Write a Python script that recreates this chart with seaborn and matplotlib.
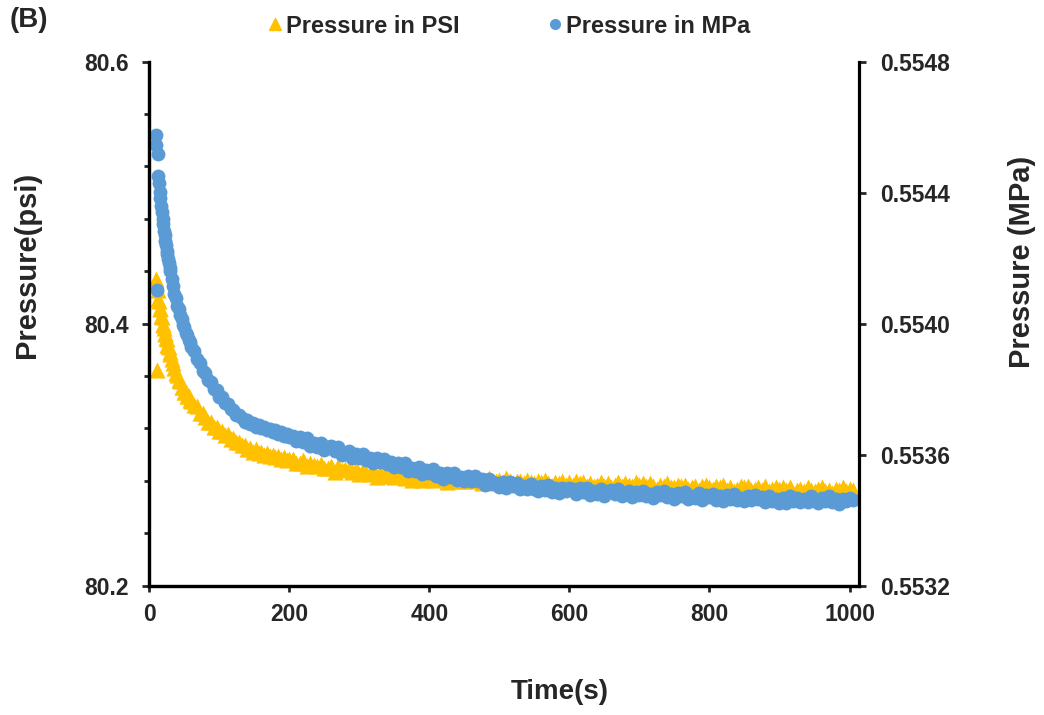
import matplotlib
matplotlib.use("Agg")
import matplotlib.pyplot as plt
import seaborn as sns
import pandas as pd
from matplotlib.ticker import MultipleLocator, FormatStrFormatter
from matplotlib.lines import Line2D

# ---------------- data ----------------
time_s = ([9, 10, 11, 12] + list(range(13, 31)) + list(range(32, 61, 2))
          + list(range(64, 201, 4)) + list(range(205, 1006, 5)))

pressure_psi = [
    80.434, 80.430, 80.365, 80.426,
    # 13..30
    80.419, 80.417, 80.412, 80.411, 80.406, 80.405, 80.400, 80.399, 80.397,
    80.393, 80.392, 80.389, 80.388, 80.384, 80.383, 80.382, 80.378, 80.377,
    # 32..60
    80.373, 80.370, 80.366, 80.362, 80.361, 80.357, 80.356, 80.352, 80.352,
    80.348, 80.348, 80.345, 80.345, 80.342, 80.341,
    # 64..200
    80.338, 80.337, 80.332, 80.332, 80.329, 80.325, 80.325, 80.321, 80.321, 80.318,
    80.318, 80.315, 80.316, 80.312, 80.313, 80.310, 80.310, 80.307, 80.307, 80.304,
    80.305, 80.302, 80.304, 80.301, 80.302, 80.300, 80.301, 80.299, 80.300, 80.298,
    80.299, 80.297, 80.298, 80.296, 80.297,
    # 205..1005
    80.297, 80.294, 80.294, 80.296, 80.291, 80.294, 80.292, 80.291, 80.293, 80.290,
    80.290, 80.291, 80.287, 80.291, 80.288, 80.289, 80.289, 80.287, 80.289, 80.285,
    80.288, 80.286, 80.285, 80.288, 80.283, 80.286, 80.284, 80.285, 80.286, 80.283,
    80.284, 80.286, 80.282, 80.284, 80.281, 80.283, 80.283, 80.281, 80.284, 80.282,
    80.281, 80.283, 80.282, 80.284, 80.279, 80.282, 80.280, 80.283, 80.281, 80.280,
    80.283, 80.280, 80.281, 80.282, 80.278, 80.281, 80.282, 80.279, 80.280, 80.281,
    80.279, 80.282, 80.280, 80.278, 80.280, 80.280, 80.278, 80.281, 80.279, 80.278,
    80.280, 80.279, 80.281, 80.278, 80.276, 80.279, 80.278, 80.280, 80.277, 80.279,
    80.277, 80.280, 80.278, 80.279, 80.276, 80.278, 80.276, 80.277, 80.279, 80.276,
    80.278, 80.275, 80.277, 80.279, 80.276, 80.278, 80.277, 80.276, 80.279, 80.277,
    80.278, 80.276, 80.278, 80.276, 80.274, 80.277, 80.276, 80.278, 80.275, 80.275,
    80.277, 80.276, 80.277, 80.274, 80.275, 80.276, 80.273, 80.276, 80.277, 80.275,
    80.274, 80.276, 80.275, 80.277, 80.273, 80.275, 80.272, 80.274, 80.276, 80.275,
    80.276, 80.273, 80.274, 80.275, 80.273, 80.276, 80.272, 80.274, 80.275, 80.274,
    80.275, 80.273, 80.275, 80.271, 80.273, 80.274, 80.272, 80.275, 80.273, 80.272,
    80.274, 80.275, 80.272, 80.273, 80.271, 80.274, 80.273, 80.275, 80.272, 80.274,
    80.273,
]

pressure_mpa = [
    0.554575, 0.554547, 0.554104, 0.554519,
    # 13..30
    0.554452, 0.554430, 0.554401, 0.554383, 0.554358, 0.554342, 0.554319, 0.554305,
    0.554284, 0.554271, 0.554252, 0.554240, 0.554221, 0.554213, 0.554196, 0.554186,
    0.554170, 0.554161,
    # 32..60
    0.554136, 0.554115, 0.554091, 0.554078, 0.554055, 0.554046, 0.554025, 0.554015,
    0.553996, 0.553990, 0.553972, 0.553966, 0.553949, 0.553945, 0.553929,
    # 64..200
    0.553916, 0.553891, 0.553881, 0.553857, 0.553850, 0.553827, 0.553821, 0.553800,
    0.553796, 0.553777,
    0.553775, 0.553757, 0.553756, 0.553738, 0.553737, 0.553721, 0.553722, 0.553711,
    0.553700, 0.553705,
    0.553693, 0.553698, 0.553686, 0.553691, 0.553680, 0.553685, 0.553674, 0.553679,
    0.553669, 0.553674,
    0.553663, 0.553668, 0.553658, 0.553664, 0.553655,
    # 205..1005
    0.553658, 0.553641, 0.553655, 0.553639, 0.553650, 0.553626, 0.553636, 0.553624, 0.553636, 0.553613,
    0.553624, 0.553626, 0.553610, 0.553623, 0.553600, 0.553606, 0.553610, 0.553590, 0.553602, 0.553591,
    0.553602, 0.553583, 0.553590, 0.553574, 0.553590, 0.553578, 0.553588, 0.553570, 0.553577, 0.553561,
    0.553575, 0.553562, 0.553574, 0.553551, 0.553559, 0.553551, 0.553561, 0.553540, 0.553554, 0.553545,
    0.553555, 0.553535, 0.553544, 0.553527, 0.553543, 0.553531, 0.553543, 0.553524, 0.553531, 0.553519,
    0.553536, 0.553520, 0.553535, 0.553519, 0.553525, 0.553507, 0.553525, 0.553509, 0.553513, 0.553501,
    0.553517, 0.553498, 0.553518, 0.553504, 0.553512, 0.553495, 0.553505, 0.553494, 0.553509, 0.553496,
    0.553489, 0.553505, 0.553492, 0.553507, 0.553487, 0.553497, 0.553483, 0.553497, 0.553489, 0.553499,
    0.553495, 0.553481, 0.553498, 0.553485, 0.553499, 0.553477, 0.553490, 0.553480, 0.553494, 0.553473,
    0.553488, 0.553493, 0.553479, 0.553495, 0.553474, 0.553483, 0.553489, 0.553471, 0.553486, 0.553477,
    0.553490, 0.553473, 0.553481, 0.553467, 0.553486, 0.553476, 0.553488, 0.553471, 0.553480, 0.553466,
    0.553483, 0.553473, 0.553487, 0.553466, 0.553475, 0.553469, 0.553482, 0.553462, 0.553478, 0.553471,
    0.553481, 0.553463, 0.553473, 0.553458, 0.553476, 0.553465, 0.553479, 0.553461, 0.553469, 0.553458,
    0.553475, 0.553461, 0.553478, 0.553464, 0.553470, 0.553454, 0.553473, 0.553459, 0.553464, 0.553453,
    0.553469, 0.553451, 0.553473, 0.553460, 0.553469, 0.553454, 0.553466, 0.553456, 0.553473, 0.553461,
    0.553452, 0.553469, 0.553457, 0.553473, 0.553454, 0.553464, 0.553450, 0.553465, 0.553458, 0.553469,
    0.553462,
]

series_labels = ["Pressure in PSI", "Pressure in MPa"]
x_ticks = [0, 200, 400, 600, 800, 1000]
psi_ticks = [80.2, 80.4, 80.6]
mpa_ticks = [0.5532, 0.5536, 0.5540, 0.5544, 0.5548]

# ---------------- style ----------------
sns.set_style("ticks")
plt.rcParams["font.family"] = ["Liberation Sans", "DejaVu Sans"]
plt.rcParams["font.weight"] = "bold"
plt.rcParams["axes.labelweight"] = "bold"

YELLOW = "#FFC000"
BLUE = "#5B9BD5"

df = pd.DataFrame({"time": time_s, "psi": pressure_psi, "mpa": pressure_mpa})

fig = plt.figure(figsize=(10.44, 7.15), dpi=100)
ax = fig.add_axes([0.1430, 0.1809, 0.6801, 0.7328])
ax2 = ax.twinx()

sns.scatterplot(data=df, x="time", y="psi", ax=ax, color=YELLOW, marker="^",
                s=135, linewidth=0, alpha=1, legend=False)
sns.scatterplot(data=df, x="time", y="mpa", ax=ax2, color=BLUE, marker="o",
                s=100, linewidth=0, alpha=1, legend=False)

ax.set_xlim(0, 1014)
ax.set_ylim(80.2, 80.6)
ax2.set_ylim(0.5532, 0.5548)

ax.set_xticks(x_ticks)
ax.set_yticks(psi_ticks)
ax.yaxis.set_minor_locator(MultipleLocator(0.04))
ax.yaxis.set_major_formatter(FormatStrFormatter("%.1f"))
ax2.set_yticks(mpa_ticks)
ax2.yaxis.set_major_formatter(FormatStrFormatter("%.4f"))

for a in (ax, ax2):
    for side in ("left", "right", "top", "bottom"):
        a.spines[side].set_linewidth(2.3)
        a.spines[side].set_color("black")
    a.spines["top"].set_visible(False)
ax.spines["right"].set_visible(False)

ax.tick_params(axis="x", which="major", direction="out", length=4.5, width=2,
               labelsize=16.5, pad=8)
ax.tick_params(axis="y", which="major", direction="out", length=5, width=2,
               labelsize=16.5, pad=10)
ax.tick_params(axis="y", which="minor", direction="out", length=3.5, width=2)
ax2.tick_params(axis="y", which="major", direction="out", length=5, width=2,
                labelsize=16.5, pad=10)
for lab in ax.get_xticklabels() + ax.get_yticklabels() + ax2.get_yticklabels():
    lab.set_fontweight("bold")

ax.set_xlabel("Time(s)", fontsize=20, fontweight="bold")
ax.set_ylabel("Pressure(psi)", fontsize=21, fontweight="bold")
ax2.set_ylabel("Pressure (MPa)", fontsize=21, fontweight="bold")
ax.xaxis.set_label_coords(0.578, -0.203)
ax.xaxis.label.set_va("center")
ax.yaxis.set_label_coords(-0.172, 0.612)
ax.yaxis.label.set_va("center")
ax2.yaxis.set_label_coords(1.229, 0.618)
ax2.yaxis.label.set_va("center")

handles = [
    Line2D([], [], marker="^", color=YELLOW, linestyle="none", markersize=9),
    Line2D([], [], marker="o", color=BLUE, linestyle="none", markersize=7),
]
fig.legend(handles, series_labels, loc="center", bbox_to_anchor=(0.4870, 0.9636),
           ncol=2, frameon=False, prop={"weight": "bold", "size": 17},
           handlelength=0.7, handletextpad=0.1, columnspacing=3.7)

fig.text(0.0096, 0.972, "(B)", fontsize=20, fontweight="bold", va="center", ha="left")

fig.savefig("out.png", dpi=100)
